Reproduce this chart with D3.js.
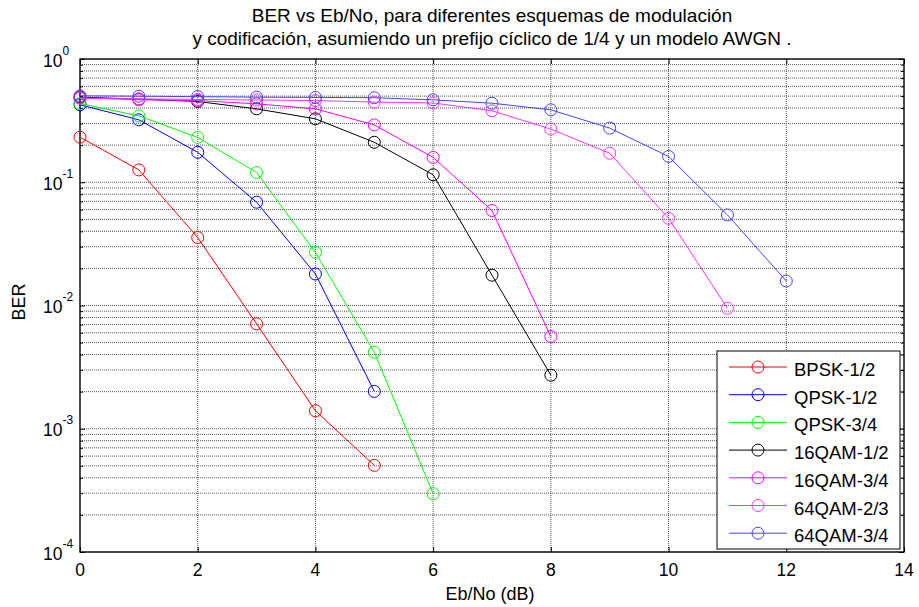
<!DOCTYPE html>
<html>
<head>
<meta charset="utf-8">
<script src="https://cdn.jsdelivr.net/npm/d3@7"></script>
<style>
body { margin: 0; background: #fff; }
svg { font-family: "Liberation Sans", Arial, sans-serif; }
</style>
</head>
<body>
<div id="chart"></div>
<script>
var ebno = [0, 1, 2, 3, 4, 5, 6, 7, 8, 9, 10, 11, 12];

var bpsk12   = [0.232, 0.126, 0.0356, 0.0071, 0.0014, 0.000505];
var qpsk12   = [0.425, 0.321, 0.175, 0.0689, 0.018, 0.00201];
var qpsk34   = [0.435, 0.346, 0.231, 0.12, 0.027, 0.00418, 0.000297];
var qam16_12 = [0.49, 0.473, 0.452, 0.394, 0.327, 0.211, 0.115, 0.0176, 0.00272];
var qam16_34 = [0.485, 0.467, 0.46, 0.433, 0.394, 0.292, 0.159, 0.059, 0.0056];
var qam64_23 = [0.48, 0.475, 0.47, 0.465, 0.46, 0.447, 0.44, 0.38, 0.27, 0.172, 0.051, 0.0095];
var qam64_34 = [0.503, 0.499, 0.495, 0.49, 0.488, 0.485, 0.466, 0.438, 0.387, 0.275, 0.162, 0.0543, 0.0158];

var names  = ["BPSK-1/2", "QPSK-1/2", "QPSK-3/4", "16QAM-1/2", "16QAM-3/4", "64QAM-2/3", "64QAM-3/4"];
var colors = ["#ff0000", "#0000ff", "#00ff00", "#000000", "#ff00ff", "#ff33ff", "#4444ff"];
var all_series = [bpsk12, qpsk12, qpsk34, qam16_12, qam16_34, qam64_23, qam64_34];

var xTicks = [0, 2, 4, 6, 8, 10, 12, 14];
var yDecades = [-4, -3, -2, -1, 0];

var width = 919, height = 607;
var margin = {top: 59, right: 15, bottom: 55, left: 80};
var w = width - margin.left - margin.right,
    h = height - margin.top - margin.bottom;

var svg = d3.select("#chart").append("svg")
    .attr("width", width)
    .attr("height", height);

var g = svg.append("g")
    .attr("transform", "translate(" + margin.left + "," + margin.top + ")");

var x = d3.scaleLinear().domain([0, 14]).range([0, w]);
var y = d3.scaleLog().domain([1e-4, 1]).range([h, 0]);

// minor + major y values
var yMinor = [];
for (var d = -4; d < 0; d++) {
    for (var k = 2; k <= 9; k++) yMinor.push(k * Math.pow(10, d));
}
var yMajor = yDecades.map(function(e) { return Math.pow(10, e); });

// grid
g.selectAll(".ygrid")
    .data(yMinor.concat(yMajor))
    .enter().append("line")
        .attr("x1", 0).attr("x2", w)
        .attr("y1", function(d) { return y(d); })
        .attr("y2", function(d) { return y(d); })
        .style("stroke", "#555")
        .style("stroke-width", 1)
        .style("stroke-dasharray", "1,1");

g.selectAll(".xgrid")
    .data(xTicks)
    .enter().append("line")
        .attr("x1", function(d) { return x(d); })
        .attr("x2", function(d) { return x(d); })
        .attr("y1", 0).attr("y2", h)
        .style("stroke", "#555")
        .style("stroke-width", 1)
        .style("stroke-dasharray", "1,1");

// axes with inward ticks
var xAxis = g.append("g")
    .attr("transform", "translate(0," + h + ")")
    .call(d3.axisBottom(x).tickValues(xTicks).tickSize(-5).tickFormat(""));
var xTop = g.append("g")
    .call(d3.axisTop(x).tickValues(xTicks).tickSize(-5).tickFormat(""));
var yLeft = g.append("g")
    .call(d3.axisLeft(y).tickValues(yMajor).tickSize(-5).tickFormat(""));
var yLeftMinor = g.append("g")
    .call(d3.axisLeft(y).tickValues(yMinor).tickSize(-3).tickFormat(""));
var yRight = g.append("g")
    .attr("transform", "translate(" + w + ",0)")
    .call(d3.axisRight(y).tickValues(yMajor).tickSize(-5).tickFormat(""));
var yRightMinor = g.append("g")
    .attr("transform", "translate(" + w + ",0)")
    .call(d3.axisRight(y).tickValues(yMinor).tickSize(-3).tickFormat(""));

[xAxis, xTop, yLeft, yLeftMinor, yRight, yRightMinor].forEach(function(a) {
    a.select(".domain").remove();
    a.selectAll("line").style("stroke", "#000");
});

// x tick labels
g.selectAll(".xlab")
    .data(xTicks)
    .enter().append("text")
        .attr("x", function(d) { return x(d); })
        .attr("y", h + 24)
        .attr("text-anchor", "middle")
        .style("font-size", "17.5px")
        .text(function(d) { return d; });

// box
g.append("rect")
    .attr("width", w).attr("height", h)
    .style("fill", "none")
    .style("stroke", "#000")
    .style("stroke-width", 1.3);

// y tick labels 10^n
var ylab = g.selectAll(".ylab")
    .data(yDecades)
    .enter().append("text")
        .attr("x", -37)
        .attr("y", function(d) { return y(Math.pow(10, d)) + 7.5; })
        .style("font-size", "17.5px");
ylab.append("tspan").text("10");
ylab.append("tspan")
    .attr("dy", -12)
    .style("font-size", "12px")
    .text(function(d) { return d; });

// series
all_series.forEach(function(vals, i) {
    var pts = vals.map(function(v, j) { return [ebno[j], v]; });
    g.append("path")
        .datum(pts)
        .attr("d", d3.line().x(function(p) { return x(p[0]); }).y(function(p) { return y(p[1]); }))
        .style("fill", "none")
        .style("stroke", colors[i])
        .style("stroke-width", 1);
    g.selectAll(".m" + i)
        .data(pts)
        .enter().append("circle")
            .attr("cx", function(p) { return x(p[0]); })
            .attr("cy", function(p) { return y(p[1]); })
            .attr("r", 6)
            .style("fill", "none")
            .style("stroke", colors[i])
            .style("stroke-width", 1);
});

// legend
var lg = g.append("g")
    .attr("transform", "translate(" + (717 - margin.left) + "," + (351 - margin.top) + ")");
lg.append("rect")
    .attr("width", 183).attr("height", 198)
    .style("fill", "#fff")
    .style("stroke", "#000")
    .style("stroke-width", 1);
names.forEach(function(n, i) {
    var yy = 16 + i * 27.7;
    lg.append("line")
        .attr("x1", 12).attr("x2", 70)
        .attr("y1", yy).attr("y2", yy)
        .style("stroke", colors[i])
        .style("stroke-width", 1);
    lg.append("circle")
        .attr("cx", 41).attr("cy", yy).attr("r", 6)
        .style("fill", "none")
        .style("stroke", colors[i]);
    lg.append("text")
        .attr("x", 77).attr("y", yy + 9)
        .style("font-size", "18.5px")
        .text(n);
});

// titles
svg.append("text")
    .attr("x", margin.left + w / 2).attr("y", 22)
    .attr("text-anchor", "middle")
    .style("font-size", "19px")
    .text("BER vs Eb/No, para diferentes esquemas de modulación");
svg.append("text")
    .attr("x", margin.left + w / 2).attr("y", 45)
    .attr("text-anchor", "middle")
    .style("font-size", "19px")
    .text("y codificación, asumiendo un prefijo cíclico de 1/4 y un modelo AWGN .");

svg.append("text")
    .attr("x", 490).attr("y", 600)
    .attr("text-anchor", "middle")
    .style("font-size", "18px")
    .text("Eb/No (dB)");

svg.append("text")
    .attr("transform", "translate(25,302) rotate(-90)")
    .attr("text-anchor", "middle")
    .style("font-size", "18px")
    .text("BER");
</script>
</body>
</html>
